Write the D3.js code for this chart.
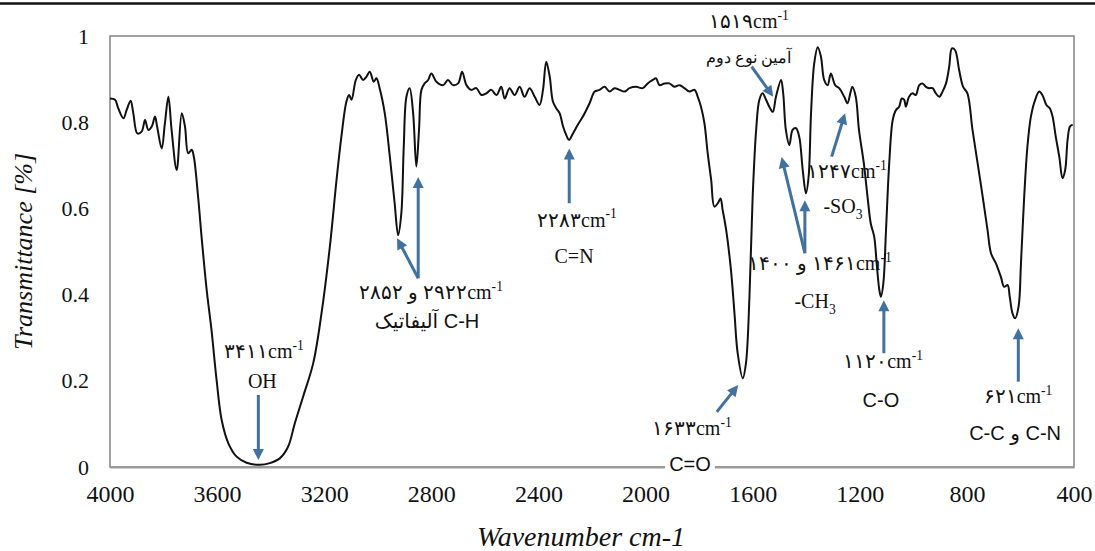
<!DOCTYPE html>
<html>
<head>
<meta charset="utf-8">
<script src="https://cdn.jsdelivr.net/npm/d3@7"></script>
<style>
  body { margin: 0; background: #fff; }
  svg { display: block; }
</style>
</head>
<body>
<svg id="chart" width="1095" height="551"></svg>
<script>
// FTIR spectrum: wavenumber (cm-1) and transmittance
const wavenumber = [
  4000, 3981, 3969, 3950, 3938, 3923, 3913, 3898, 3882, 3869, 3857, 3844, 3832, 3824, 3807, 3795,
  3782, 3770, 3751, 3732, 3720, 3708, 3695, 3687, 3671, 3658, 3639, 3621, 3602, 3583, 3558, 3527,
  3490, 3440, 3403, 3366, 3335, 3310, 3279, 3241, 3210, 3179, 3154, 3136, 3117, 3107, 3098, 3082,
  3070, 3055, 3042, 3030, 3015, 3005, 2993, 2974, 2955, 2937, 2924, 2912, 2903, 2893, 2881, 2868,
  2856, 2846, 2837, 2825, 2812, 2800, 2781, 2756, 2738, 2719, 2700, 2685, 2669, 2651, 2632, 2613,
  2595, 2576, 2557, 2539, 2526, 2508, 2489, 2470, 2452, 2433, 2414, 2396, 2383, 2371, 2358, 2346,
  2333, 2321, 2308, 2296, 2286, 2271, 2253, 2234, 2209, 2190, 2172, 2153, 2134, 2116, 2097, 2079,
  2060, 2035, 2010, 1992, 1973, 1961, 1948, 1929, 1911, 1892, 1873, 1855, 1836, 1817, 1805, 1793,
  1780, 1768, 1755, 1743, 1730, 1720, 1712, 1699, 1681, 1668, 1656, 1637, 1625, 1612, 1600, 1587,
  1575, 1563, 1550, 1538, 1525, 1513, 1494, 1486, 1476, 1463, 1451, 1438, 1426, 1413, 1401, 1391,
  1382, 1370, 1357, 1345, 1333, 1320, 1308, 1292, 1277, 1258, 1246, 1234, 1228, 1215, 1203, 1185,
  1171, 1159, 1146, 1137, 1127, 1121, 1112, 1102, 1090, 1077, 1065, 1053, 1043, 1034, 1028, 1016,
  1003, 991, 978, 966, 953, 941, 928, 916, 903, 891, 878, 866, 856, 844, 829, 814,
  798, 779, 760, 741, 723, 710, 692, 673, 661, 648, 640, 630, 620, 607, 598, 586,
  574, 561, 545, 530, 518, 503, 490, 480, 468, 455, 443, 433, 424, 415, 405
];
const transmittance = [
  0.855, 0.852, 0.832, 0.809, 0.828, 0.850, 0.821, 0.774, 0.778, 0.805, 0.782, 0.790, 0.813, 0.790, 0.739, 0.797,
  0.859, 0.782, 0.689, 0.821, 0.790, 0.728, 0.736, 0.720, 0.627, 0.534, 0.411, 0.318, 0.202, 0.109, 0.055, 0.024,
  0.010, 0.005, 0.009, 0.020, 0.047, 0.101, 0.163, 0.241, 0.357, 0.511, 0.666, 0.766, 0.848, 0.863, 0.852, 0.898,
  0.910, 0.898, 0.906, 0.917, 0.894, 0.902, 0.879, 0.821, 0.720, 0.612, 0.538, 0.589, 0.743, 0.859, 0.879, 0.821,
  0.697, 0.782, 0.875, 0.890, 0.898, 0.913, 0.894, 0.886, 0.898, 0.886, 0.890, 0.917, 0.886, 0.875, 0.879, 0.863,
  0.867, 0.875, 0.863, 0.882, 0.855, 0.879, 0.863, 0.882, 0.859, 0.879, 0.859, 0.840, 0.875, 0.940, 0.906, 0.848,
  0.832, 0.821, 0.790, 0.770, 0.759, 0.774, 0.794, 0.813, 0.844, 0.871, 0.875, 0.882, 0.871, 0.879, 0.875, 0.871,
  0.879, 0.882, 0.879, 0.890, 0.898, 0.902, 0.886, 0.890, 0.890, 0.882, 0.886, 0.879, 0.871, 0.875, 0.859, 0.836,
  0.797, 0.728, 0.666, 0.604, 0.612, 0.623, 0.596, 0.550, 0.457, 0.357, 0.264, 0.206, 0.241, 0.395, 0.627, 0.782,
  0.852, 0.867, 0.852, 0.836, 0.824, 0.859, 0.898, 0.867, 0.782, 0.747, 0.782, 0.786, 0.766, 0.689, 0.635, 0.674,
  0.821, 0.937, 0.974, 0.952, 0.898, 0.886, 0.913, 0.886, 0.879, 0.859, 0.844, 0.871, 0.882, 0.859, 0.782, 0.705,
  0.627, 0.565, 0.534, 0.473, 0.411, 0.395, 0.426, 0.550, 0.705, 0.805, 0.828, 0.836, 0.855, 0.852, 0.836, 0.859,
  0.867, 0.863, 0.886, 0.890, 0.882, 0.879, 0.879, 0.867, 0.859, 0.871, 0.890, 0.929, 0.971, 0.967, 0.921, 0.882,
  0.867, 0.782, 0.705, 0.627, 0.550, 0.496, 0.473, 0.441, 0.418, 0.422, 0.395, 0.357, 0.345, 0.372, 0.473, 0.627,
  0.743, 0.813, 0.852, 0.871, 0.863, 0.840, 0.832, 0.813, 0.766, 0.720, 0.670, 0.689, 0.759, 0.790, 0.794
];

const xTicks = [4000, 3600, 3200, 2800, 2400, 2000, 1600, 1200, 800, 400];
const xTickLabels = ["4000", "3600", "3200", "2800", "2400", "2000", "1600", "1200", "800", "400"];
const yTicks = [0, 0.2, 0.4, 0.6, 0.8, 1];
const yTickLabels = ["0", "0.2", "0.4", "0.6", "0.8", "1"];

const xTitle = "Wavenumber cm-1";
const yTitle = "Transmittance [%]";

// Peak assignments: arrows go from tail to head, in (wavenumber, transmittance)
const peakArrows = [
  { from: [3446, 0.167], to: [3446, 0.016] },
  { from: [2849, 0.438], to: [2928, 0.531] },
  { from: [2849, 0.438], to: [2849, 0.673] },
  { from: [2285, 0.612], to: [2285, 0.739] },
  { from: [1734, 0.128], to: [1654, 0.190] },
  { from: [1604, 0.929], to: [1523, 0.859] },
  { from: [1305, 0.720], to: [1255, 0.821] },
  { from: [1405, 0.496], to: [1492, 0.719] },
  { from: [1405, 0.496], to: [1405, 0.619] },
  { from: [1110, 0.264], to: [1110, 0.387] },
  { from: [608, 0.198], to: [608, 0.322] }
];

const LRM = "\u200E";
// Label text pieces: [text, "sup" | "sub" | undefined]
const peakLabels = [
  { at: [3425, 0.253], font: "serif", parts: [["۳۴۱۱cm"], ["-1", "sup"]] },
  { at: [3431, 0.183], font: "serif", parts: [["OH"]] },
  { at: [2801, 0.390], font: "serif", parts: [["۲۸۵۲" + LRM + " و " + LRM + "۲۹۲۲cm"], ["-1", "sup"]] },
  { at: [2816, 0.323], font: "sans", parts: [["آلیفاتیک C-H"]] },
  { at: [2256, 0.558], font: "serif", parts: [["۲۲۸۳cm"], ["-1", "sup"]] },
  { at: [2267, 0.473], font: "serif", parts: [["C=N"]] },
  { at: [1827, 0.074], font: "serif", parts: [["۱۶۳۳cm"], ["-1", "sup"]] },
  { at: [1834, -0.009], font: "sans", bg: true, parts: [["C=O"]] },
  { at: [1614, 1.018], font: "serif", parts: [["۱۵۱۹cm"], ["-1", "sup"]] },
  { at: [1617, 0.937], font: "serif", small: true, parts: [["آمین نوع دوم"]] },
  { at: [1248, 0.670], font: "serif", parts: [["۱۲۴۷cm"], ["-1", "sup"]] },
  { at: [1263, 0.589], font: "serif", parts: [["-SO"], ["3", "sub"]] },
  { at: [1349, 0.457], font: "serif", parts: [["۱۴۰۰" + LRM + " و " + LRM + "۱۴۶۱cm"], ["-1", "sup"]] },
  { at: [1367, 0.369], font: "serif", parts: [["-CH"], ["3", "sub"]] },
  { at: [1113, 0.229], font: "serif", parts: [["۱۱۲۰cm"], ["-1", "sup"]] },
  { at: [1121, 0.140], font: "sans", parts: [["C-O"]] },
  { at: [609, 0.148], font: "serif", parts: [["۶۲۱cm"], ["-1", "sup"]] },
  { at: [620, 0.063], font: "sans", parts: [["C-C" + LRM + " و " + LRM + "C-N"]] }
];

const serif = "'Liberation Serif','DejaVu Serif',serif";
const sans = "'Liberation Sans','DejaVu Sans',sans-serif";
const arrowColor = "#41729f";

const svg = d3.select("#chart");
const plot = { left: 110, right: 1074, top: 36, bottom: 467 };

const x = d3.scaleLinear().domain([4000, 400]).range([plot.left, plot.right]);
const y = d3.scaleLinear().domain([0, 1]).range([plot.bottom, plot.top]);

// rule across the top of the figure
svg.append("line")
  .attr("x1", 0).attr("x2", 1095).attr("y1", 3.5).attr("y2", 3.5)
  .attr("stroke", "#111").attr("stroke-width", 2.5);

// plot frame
svg.append("rect")
  .attr("x", plot.left).attr("y", plot.top)
  .attr("width", plot.right - plot.left).attr("height", plot.bottom - plot.top)
  .attr("fill", "none").attr("stroke", "#8a8a8a").attr("stroke-width", 1.6);

// axes
const xAxis = d3.axisBottom(x).tickValues(xTicks).tickSize(0).tickPadding(22)
  .tickFormat((d, i) => xTickLabels[i]);
const gx = svg.append("g").attr("transform", `translate(0,${plot.bottom})`).call(xAxis);
gx.attr("font-family", serif);
gx.select(".domain").attr("stroke", "#9a9a9a").attr("stroke-width", 2);
gx.selectAll("text").attr("font-family", serif).attr("font-size", 24).attr("fill", "#111")
  .attr("dy", "0.55em");

const yAxis = d3.axisLeft(y).tickValues(yTicks).tickSize(0).tickPadding(21)
  .tickFormat((d, i) => yTickLabels[i]);
const gy = svg.append("g").attr("transform", `translate(${plot.left},0)`).call(yAxis);
gy.attr("font-family", serif);
gy.select(".domain").remove();
gy.selectAll("text").attr("font-family", serif).attr("font-size", 22).attr("fill", "#111");

// axis titles
svg.append("text")
  .attr("transform", `translate(32,${(plot.top + plot.bottom) / 2}) rotate(-90)`)
  .attr("text-anchor", "middle")
  .attr("font-family", serif).attr("font-style", "italic").attr("font-size", 26)
  .attr("fill", "#111").text(yTitle);

svg.append("text")
  .attr("x", 581).attr("y", 546)
  .attr("text-anchor", "middle")
  .attr("font-family", serif).attr("font-style", "italic").attr("font-size", 28)
  .attr("fill", "#111").text(xTitle);

// spectrum
const spectrum = wavenumber.map((w, i) => [w, transmittance[i]]);
const line = d3.line().x(d => x(d[0])).y(d => y(d[1])).curve(d3.curveCatmullRom.alpha(0.5));
svg.append("path")
  .datum(spectrum)
  .attr("d", line)
  .attr("fill", "none").attr("stroke", "#111").attr("stroke-width", 2)
  .attr("stroke-linejoin", "round");

// arrows
const headLen = 11, headHalf = 5.5;
const ga = svg.append("g");
peakArrows.forEach(a => {
  const x0 = x(a.from[0]), y0 = y(a.from[1]);
  const x1 = x(a.to[0]), y1 = y(a.to[1]);
  const dx = x1 - x0, dy = y1 - y0, L = Math.hypot(dx, dy);
  const ux = dx / L, uy = dy / L;
  const bx = x1 - ux * headLen, by = y1 - uy * headLen;
  ga.append("line")
    .attr("x1", x0).attr("y1", y0).attr("x2", bx + ux * 1).attr("y2", by + uy * 1)
    .attr("stroke", arrowColor).attr("stroke-width", 3);
  ga.append("path")
    .attr("d", `M${x1},${y1}L${bx - uy * headHalf},${by + ux * headHalf}L${bx + uy * headHalf},${by - ux * headHalf}Z`)
    .attr("fill", arrowColor);
});

// peak labels
const gl = svg.append("g");
peakLabels.forEach(lab => {
  const size = lab.small ? 16 : 20;
  const t = gl.append("text")
    .attr("x", x(lab.at[0])).attr("y", y(lab.at[1]))
    .attr("text-anchor", "middle")
    .attr("font-family", lab.font === "sans" ? sans : serif)
    .attr("font-size", size).attr("fill", "#111");
  lab.parts.forEach(p => {
    const ts = t.append("tspan").text(p[0]);
    if (p[1] === "sup") ts.attr("font-size", size * 0.68).attr("dy", -size * 0.42);
    if (p[1] === "sub") ts.attr("font-size", size * 0.68).attr("dy", size * 0.28);
  });
  if (lab.bg) {
    const b = t.node().getBBox();
    gl.insert("rect", () => t.node())
      .attr("x", b.x - 4).attr("y", b.y).attr("width", b.width + 8).attr("height", b.height)
      .attr("fill", "#fff");
  }
});
</script>
</body>
</html>
